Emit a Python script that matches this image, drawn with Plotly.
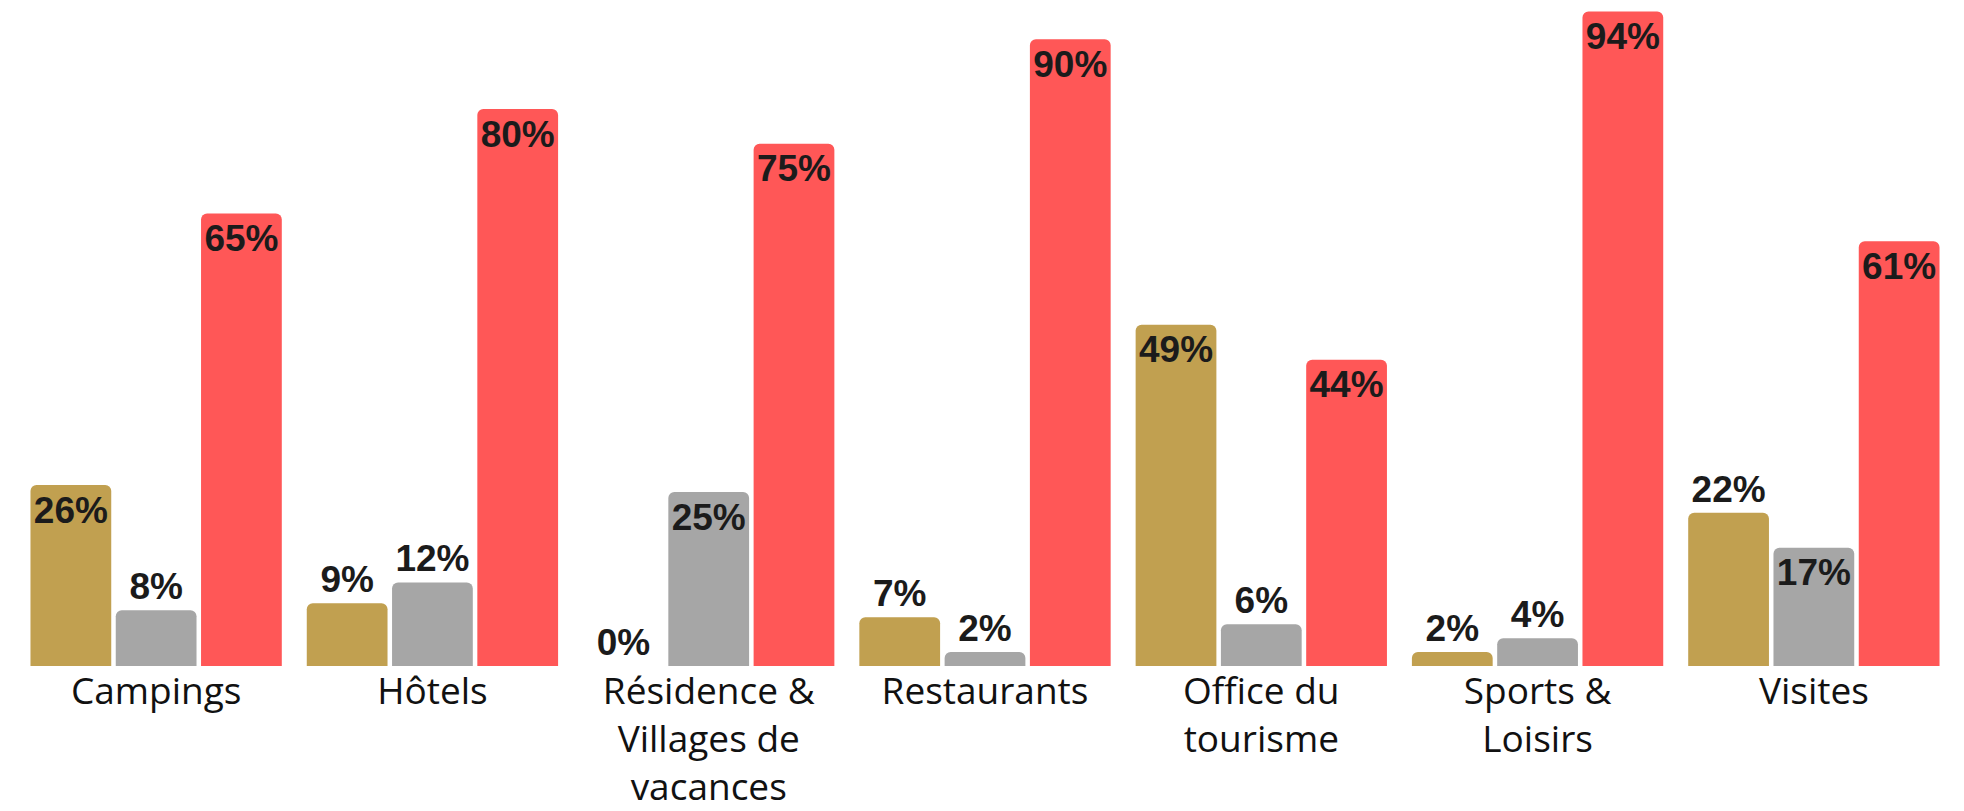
import plotly.graph_objects as go

categories = ["Campings", "Hôtels", "Résidence &<br>Villages de<br>vacances", "Restaurants",
              "Office du<br>tourisme", "Sports &<br>Loisirs", "Visites"]
series_gold = [26, 9, 0, 7, 49, 2, 22]
series_gray = [8, 12, 25, 2, 6, 4, 17]
series_red = [65, 80, 75, 90, 44, 94, 61]

pos_gold = ["inside", "outside", "outside", "outside", "inside", "outside", "outside"]
pos_gray = ["outside", "outside", "inside", "outside", "outside", "outside", "inside"]
pos_red = ["inside"] * 7

colors = {"gold": "#C1A050", "gray": "#A6A6A6", "red": "#FF5757"}

fig = go.Figure()
for vals, pos, col in [(series_gold, pos_gold, colors["gold"]),
                       (series_gray, pos_gray, colors["gray"]),
                       (series_red, pos_red, colors["red"])]:
    fig.add_trace(go.Bar(
        x=categories, y=vals,
        text=[f"{v}%" for v in vals],
        textposition=pos,
        insidetextanchor="end",
        constraintext="none",
        textangle=0,
        cliponaxis=False,
        textfont=dict(family="Liberation Sans", size=37, color="#1b1b1b", weight="bold"),
        marker=dict(color=col, cornerradius=6, line=dict(width=0)),
        showlegend=False,
        hoverinfo="skip",
    ))

fig.update_layout(
    width=1950, height=803,
    margin=dict(l=10, r=6, t=0, b=145, autoexpand=False),
    barmode="group",
    bargap=0.074,
    bargroupgap=0.053,
    plot_bgcolor="white",
    paper_bgcolor="white",
    xaxis=dict(showgrid=False, showline=False, zeroline=False, ticks="", automargin=False,
               tickfont=dict(family="Open Sans", size=37, color="#111111")),
    yaxis=dict(range=[0, 94.5], visible=False, showgrid=False, zeroline=False, automargin=False),
)

fig.write_html("out.html")
